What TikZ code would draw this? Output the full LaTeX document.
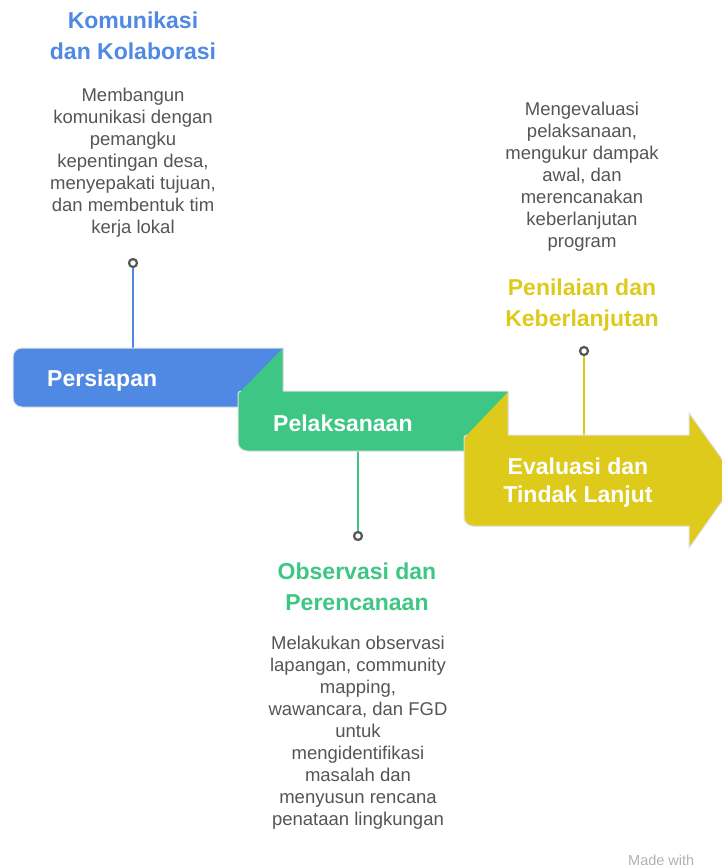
\documentclass[tikz,border=0pt]{standalone}
\usepackage{fontspec}
\setmainfont{Liberation Sans}
\definecolor{biruc}{HTML}{4F89E4}
\definecolor{hijauc}{HTML}{3DC684}
\definecolor{kuningc}{HTML}{DECA1B}
\definecolor{abu}{HTML}{555555}
\begin{document}
\begin{tikzpicture}[
  x=1pt, y=-1pt,
  every node/.style={font=\fontsize{18.5}{22}\selectfont, text=abu, align=center, inner sep=0pt},
  judul/.style={font=\fontsize{23}{31}\selectfont\bfseries},
  kotak/.style={font=\fontsize{23}{28}\selectfont\bfseries, text=white},
  titik/.style={circle, draw=abu, fill=white, line width=2.2pt, minimum size=8pt},
  garis/.style={draw=#1, line width=2pt},
  tepi/.style={draw=black!12, line width=1pt}
]
\useasboundingbox (0,0) rectangle (722,868);
\clip (0,0) rectangle (722,868);

% titik dan garis
\node[titik] (t1) at (133,263) {};
\node[titik] (t2) at (358,536) {};
\node[titik] (t3) at (584,351) {};
\coordinate (a1) at (133,352);
\coordinate (a2) at (358,449);
\coordinate (a3) at (584,438);
\draw[garis=biruc] (t1) -- (a1);
\draw[garis=hijauc] (a2) -- (t2);
\draw[garis=kuningc] (t3) -- (a3);

% tiga langkah
\path[fill=biruc, tepi] (283,348) -- (283,407) -- (22,407)
  arc[start angle=90, end angle=180, radius=9] -- (13,357)
  arc[start angle=180, end angle=270, radius=9] -- cycle;
\path[fill=hijauc, tepi] (283,348) -- (283,391) -- (508,391) -- (508,451) -- (247,451)
  arc[start angle=90, end angle=180, radius=9] -- (238,394)
  arc[start angle=180, end angle=270, radius=3] -- (241,391); % lipatan
\path[fill=kuningc, tepi] (508,392) -- (508,435) -- (689,435) -- (689,413) -- (737,480)
  -- (689,548) -- (689,526) -- (473,526)
  arc[start angle=90, end angle=180, radius=9] -- (464,438)
  arc[start angle=180, end angle=270, radius=3] -- (467,435);

\node[kotak, anchor=base west] (k1) at (47,386) {Persiapan};
\node[kotak, anchor=base west] (k2) at (273,431) {Pelaksanaan};
\node[kotak] (k3) at (578,483) {Evaluasi dan\\Tindak Lanjut};

% judul dan keterangan
\node[judul, text=biruc] (j1) at (133,36) {Komunikasi\\dan Kolaborasi};
\node (d1) at (133,163) {Membangun\\komunikasi dengan\\pemangku\\kepentingan desa,\\menyepakati tujuan,\\dan membentuk tim\\kerja lokal};
\node (d3) at (582,177) {Mengevaluasi\\pelaksanaan,\\mengukur dampak\\awal, dan\\merencanakan\\keberlanjutan\\program};
\node[judul, text=kuningc] (j3) at (582,305) {Penilaian dan\\Keberlanjutan};
\node[judul, text=hijauc] (j2) at (357,587) {Observasi dan\\Perencanaan};
\node (d2) at (358,733) {Melakukan observasi\\lapangan, community\\mapping,\\wawancara, dan FGD\\untuk\\mengidentifikasi\\masalah dan\\menyusun rencana\\penataan lingkungan};

\node[font=\fontsize{14.5}{16}\selectfont, text=black!30, anchor=base west] (m) at (628,865) {Made with};
\end{tikzpicture}
\end{document}
